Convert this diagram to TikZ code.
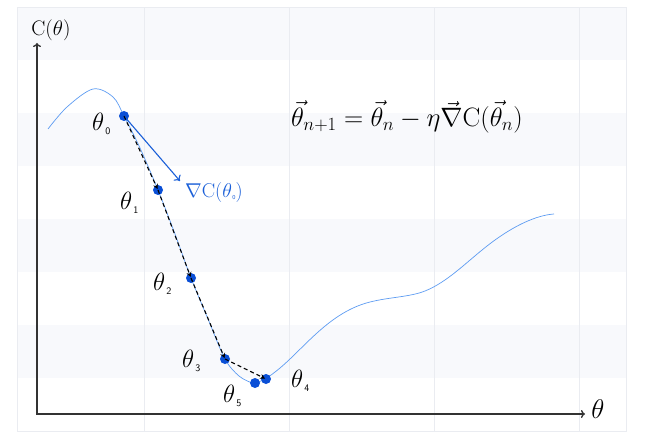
\RequirePackage{fix-cm}
\documentclass[tikz,border=0pt]{standalone}
\usepackage{graphicx}
\usetikzlibrary{arrows.meta}
\definecolor{bandc}{HTML}{F8F9FC}
\definecolor{gridc}{HTML}{EAECF1}
\definecolor{curvec}{HTML}{5E9CF2}
\definecolor{dotc}{HTML}{0A4FD6}
\definecolor{gradc}{HTML}{1A5FD8}
\definecolor{axisc}{HTML}{333333}
\newcommand{\thlab}[1]{$\theta$\kern1pt\raisebox{-4pt}{\fontsize{10}{10}\selectfont\sffamily #1}}
\begin{document}
\begin{tikzpicture}[x=1pt,y=-1pt,
  dot/.style={circle,fill=dotc,draw=none,inner sep=0pt,minimum size=10pt},
  stepline/.style={black,line width=1.1pt,dash pattern=on 4pt off 3pt,-{Stealth[length=5pt,width=5pt]},shorten >=1pt},
  thetalab/.style={anchor=base west,inner sep=0pt,font=\fontsize{25}{30}\selectfont},
  gridline/.style={gridc,line width=1pt}]
\useasboundingbox (0,0) rectangle (647,438);
% background bands
\foreach \i in {0,2,4,6} \fill[bandc] (17,{7+\i*53}) rectangle (626,{60+\i*53});
\foreach \x in {144,289,434,579} \draw[gridline] (\x,7) -- (\x,431);
\draw[gridc,line width=0.8pt] (17,7) rectangle (626,431);
% axes
\coordinate (O) at (37,414);
\coordinate (ytop) at (37,43);
\coordinate (xend) at (585,414);
\draw[axisc,line width=1.3pt,{To[length=4pt,width=8pt]}-{To[length=4pt,width=8pt]}] (ytop) -- (O) -- (xend);
\node[anchor=base,inner sep=0pt,font=\fontsize{21}{25}\selectfont] (ylab) at (51,36) {$\mathrm{C}(\theta)$};
\node[anchor=base,inner sep=0pt,font=\fontsize{27}{32}\selectfont] (xlab) at (598,418) {$\theta$};
% cost curve
\draw[curvec,line width=0.7pt] plot[smooth,tension=0.55] coordinates {
 (48,129) (67,107) (93,89) (113,97) (124,116) (140,148) (158,190) (175,234)
 (191,278) (208,319) (225,359) (239,376) (252,383)}
 .. controls (260,383) and (268,378) .. (280,368)
 .. controls (305,347) and (330,312) .. (370,302)
 .. controls (390,297) and (410,297) .. (425,291)
 .. controls (450,281) and (470,258) .. (495,240)
 .. controls (520,222) and (540,215) .. (554,214);
% gradient arrow
\coordinate (gtip) at (180,181);
\node[dot] (t0) at (124,116) {};
\node[dot] (t1) at (158,190) {};
\node[dot] (t2) at (191,278) {};
\node[dot] (t3) at (225,359) {};
\node[dot] (t5) at (255,383) {};
\node[dot] (t4) at (266,379) {};
\draw[gradc,line width=1.1pt,-{To[length=5pt,width=9pt]}] (t0.center) -- (gtip);
\draw[stepline] (t0.center) -- (t1.center);
\draw[stepline] (t1.center) -- (t2.center);
\draw[stepline] (t2.center) -- (t3.center);
\draw[stepline] (t3.center) -- (t4.center);
\node[anchor=base west,inner sep=0pt,text=gradc,font=\fontsize{20}{24}\selectfont] (glab) at (185,198)
  {$\nabla\mathrm{C}(\theta$\kern0.5pt\raisebox{-1.5pt}{\fontsize{6}{6}\selectfont\sffamily 0}$)$};
% labels
\node[thetalab] (l0) at (92,131) {\thlab{0}};
\node[thetalab] (l1) at (120,210) {\thlab{1}};
\node[thetalab] (l2) at (153,290) {\thlab{2}};
\node[thetalab] (l3) at (182,367) {\thlab{3}};
\node[thetalab] (l5) at (223,402) {\thlab{5}};
\node[thetalab] (l4) at (291,387) {\thlab{4}};
% update rule
\node[anchor=base,inner sep=0pt,font=\fontsize{26.6}{31}\selectfont] (eq) at (407,127)
  {$\vec\theta_{n+1} = \vec\theta_n - \eta\vec\nabla\mathrm{C}(\vec\theta_n)$};
\end{tikzpicture}
\end{document}
